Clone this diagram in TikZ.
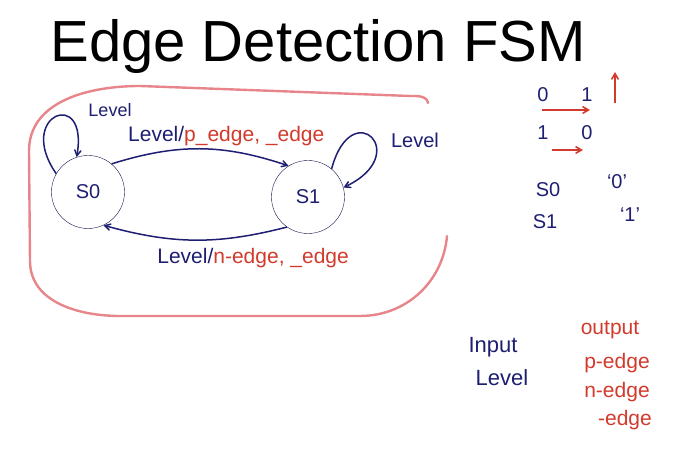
\documentclass[tikz,border=0pt]{standalone}
\usepackage{fontspec}
\setmainfont{Liberation Sans}
\usetikzlibrary{automata, positioning, arrows}

\definecolor{ink}{HTML}{1E1E72}
\definecolor{redink}{HTML}{D23A2C}
\definecolor{frameline}{HTML}{E8858A}

\tikzset{
  fsm/.style={state, draw=ink!70!black, thin, minimum size=73pt, text=ink,
              font=\fontsize{20}{22}\selectfont},
  tr/.style={->, >=angle 60, draw=ink, line width=1.5pt},
  hand/.style={font=\fontsize{20}{22}\selectfont, text=ink},
  redhand/.style={font=\fontsize{21}{23}\selectfont, text=redink},
  trlabel/.style={font=\fontsize{21}{23}\selectfont},
  redarrow/.style={->, >=angle 60, draw=redink, line width=1.6pt},
}

\begin{document}
\begin{tikzpicture}[x=1pt,y=1pt]
    \useasboundingbox (0,0) rectangle (675,476);

    \node[anchor=base, font=\fontsize{58}{60}\selectfont] (title) at (318,414) {Edge Detection FSM};

    % the red frame round the machine
    \draw[frameline, line width=2.4pt, line cap=round]
        (428,373) to[out=100,in=0] (410,380) -- (140,390)
        to[out=180,in=90] (29,325) -- (30,215)
        to[out=-90,in=180] (120,160) -- (360,160)
        to[out=0,in=-95] (447,240);

    \node[fsm] (s0) at (88,284) {S0};
    \node[fsm] (s1) at (308,279) {S1};

    \path
        (s0.150) edge[tr, out=125, in=80, min distance=72pt] (s0.108)
        (s0.50)  edge[tr, bend left=18] node[trlabel, above, xshift=26pt, yshift=-1pt]
                 {\textcolor{ink}{Level/}\textcolor{redink}{p\_edge, \_edge}} (s1.122)
        (s1.50)  edge[tr, out=75, in=25, min distance=78pt] (s1.15)
        (s1.235) edge[tr, bend left=15] node[trlabel, below, xshift=58pt, yshift=-4pt]
                 {\textcolor{ink}{Level/}\textcolor{redink}{n-edge, \_edge}} (s0.295);

    \node[hand, font=\fontsize{18}{20}\selectfont] (l0) at (110,366) {Level};
    \node[hand] (l1) at (415,336) {Level};

    % side notes
    \node[hand] (a0) at (543,381) {0};
    \node[hand] (a1) at (587,381) {1};
    \node[hand] (b1) at (543,343) {1};
    \node[hand] (b0) at (587,343) {0};
    \coordinate (ra) at (542,366);
    \coordinate (rb) at (590,366);
    \coordinate (rc) at (552,326);
    \coordinate (rd) at (583,326);
    \coordinate (up0) at (615,373);
    \coordinate (up1) at (615,404);
    \draw[redarrow] (ra) -- (rb);
    \draw[redarrow] (rc) -- (rd);
    \draw[redarrow] (up0) -- (up1);

    \node[hand] (n0) at (548,286) {S0};
    \node[hand] (v0) at (617,294) {‘0’};
    \node[hand] (n1) at (545,254) {S1};
    \node[hand] (v1) at (630,261) {‘1’};

    \node[hand, font=\fontsize{22}{24}\selectfont] (inp) at (493,129) {Input};
    \node[hand, font=\fontsize{22}{24}\selectfont] (lvl) at (502,98) {Level};
    \node[redhand] (outp) at (610,146) {output};
    \node[redhand] (pe) at (617,113) {p-edge};
    \node[redhand] (ne) at (617,84) {n-edge};
    \node[redhand] (ue) at (625,56) {-edge};
\end{tikzpicture}
\end{document}
